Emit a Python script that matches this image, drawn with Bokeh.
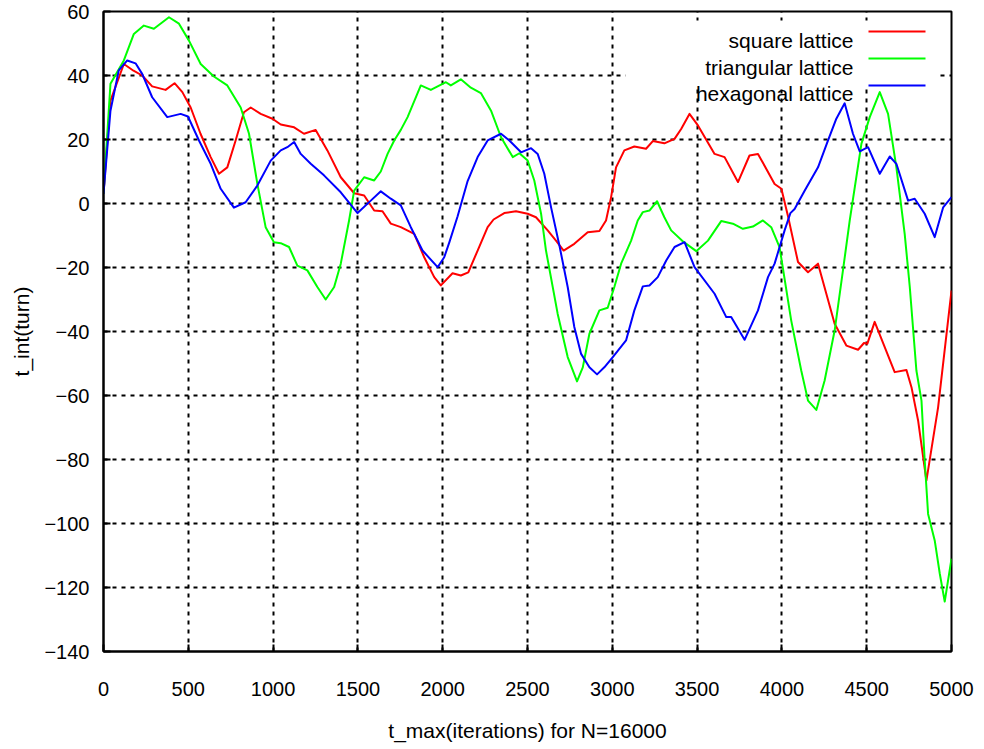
from bokeh.plotting import figure
from bokeh.models import (Range1d, FixedTicker, Label, BoxAnnotation, ColumnDataSource)
from bokeh.embed import file_html
from bokeh.resources import INLINE

# ---------------- data ----------------
square_x = [0, 40, 120, 177, 228, 287, 366, 419, 465, 514, 572, 632, 681, 730, 779, 828, 868, 927,
            996, 1045, 1124, 1182, 1251, 1320, 1399, 1478, 1537, 1596, 1645, 1694, 1753, 1832, 1891,
            1950, 1989, 2058, 2107, 2151, 2206, 2265, 2300, 2363, 2432, 2501, 2550, 2619, 2668, 2713,
            2776, 2855, 2924, 2963, 2993, 3022, 3071, 3130, 3199, 3239, 3307, 3367, 3406, 3455, 3505,
            3603, 3662, 3741, 3809, 3859, 3957, 3997, 4036, 4095, 4154, 4213, 4311, 4380, 4449, 4484,
            4504, 4547, 4665, 4734, 4764, 4803, 4852, 4921, 5000]
square_y = [3, 32, 43.6, 41.5, 40, 36.6, 35.5, 37.6, 34.8, 30, 21.8, 14.5, 9.3, 11.3, 19.7, 28.5, 30, 28,
            26.5, 24.7, 23.8, 21.8, 23, 16.6, 8.2, 3.2, 2.5, -2.2, -2.4, -6.3, -7.4, -9.5, -16.8,
            -23, -25.6, -21.8, -22.5, -21.5, -14.7, -7.4, -5.0, -3, -2.4, -3.2, -4.3, -8.4, -11.6, -14.7,
            -12.6, -9, -8.6, -5.3, 2, 11.3, 16.6, 17.8, 17.1, 19.5, 18.8, 20.2, 23.3, 28, 24.4,
            15.5, 14.5, 6.7, 15, 15.5, 6.1, 4.6, -4, -18.3, -21.5, -18.8, -37.6, -44.4, -45.7, -43.6,
            -43.8, -37, -52.7, -52, -57.4, -67.8, -86.6, -63.7, -27.2]

triangular_x = [0, 41, 120, 179, 238, 297, 386, 445, 504, 573, 651, 730, 809, 858, 907, 956, 1005, 1045,
                1094, 1143, 1202, 1261, 1310, 1360, 1399, 1448, 1478, 1537, 1596, 1635, 1675, 1714, 1753,
                1793, 1871, 1930, 2019, 2048, 2107, 2166, 2225, 2285, 2344, 2413, 2452, 2501, 2540, 2580,
                2609, 2678, 2737, 2792, 2826, 2865, 2924, 2973, 3012, 3052, 3111, 3150, 3180, 3219, 3264,
                3307, 3347, 3420, 3495, 3564, 3642, 3711, 3770, 3829, 3888, 3937, 3986, 4055, 4114, 4154,
                4203, 4252, 4311, 4360, 4400, 4469, 4518, 4577, 4626, 4675, 4724, 4754, 4793, 4823, 4842,
                4862, 4901, 4931, 4960, 5000]
triangular_y = [3, 37.4, 44.7, 53, 55.6, 54.6, 58.2, 56.2, 50.9, 43.6, 39.7, 36.9, 30, 21.8, 6.2, -7.4, -12.1, -12.4,
                -13.6, -19.4, -20.9, -26.1, -30, -26.1, -18.8, -5.3, 4, 8.2, 7.2, 10, 15.5, 19.7, 23,
                27, 36.9, 35.5, 37.9, 36.9, 38.8, 36.2, 34.5, 29, 20.7, 14.5, 15.7, 13.4, 7.2, -3.2,
                -14.7, -34.5, -48, -55.6, -51.2, -40.7, -33.4, -32.6, -26.1, -18.8, -11.6, -5.3, -2.7, -2.2, 0.7,
                -4.3, -8.4, -12, -14.9, -11.6, -5.5, -6.3, -7.9, -7.2, -5.3, -7.4, -13.6, -36.6, -52.2, -61.6,
                -64.5, -55.3, -39.7, -20.9, -5.3, 18.7, 27, 34.8, 28, 11.3, -9.5, -26.1, -52.2, -61.6, -80.3,
                -97, -105.3, -115.7, -124.4, -111]

hexagonal_x = [0, 41, 90, 140, 189, 228, 287, 376, 455, 498, 563, 632, 691, 769, 838, 907, 986, 1045,
               1084, 1124, 1163, 1222, 1300, 1399, 1498, 1576, 1635, 1694, 1753, 1812, 1881, 1970, 2009,
               2040, 2088, 2147, 2206, 2265, 2344, 2393, 2462, 2521, 2560, 2599, 2639, 2690, 2737, 2776,
               2816, 2865, 2910, 2953, 3003, 3081, 3130, 3180, 3219, 3268, 3318, 3367, 3426, 3485, 3603,
               3672, 3701, 3780, 3859, 3918, 3957, 4016, 4050, 4075, 4134, 4213, 4272, 4321, 4370, 4419,
               4459, 4508, 4577, 4636, 4675, 4744, 4783, 4842, 4901, 4951, 5000]
hexagonal_y = [3, 29, 41.6, 44.7, 43.8, 40.5, 33.2, 27, 28, 27.2, 19.7, 12.4, 4.6, -1.3, 0.4, 5.6, 13.4, 16.6,
               17.6, 19.2, 15.5, 12.4, 8.8, 3.5, -3, 0.9, 3.8, 1.5, -0.6, -7.4, -14.7, -19.9, -16.8,
               -12, -4, 7, 14.5, 19.7, 21.8, 19.7, 16, 17.3, 15.5, 9.3, -1.2, -13.6, -26.1, -38.6,
               -47, -51.2, -53.4, -51.2, -48, -42.8, -33.4, -25.9, -25.6, -23, -17.8, -13.6, -12.1, -19.9, -28.2,
               -35.5, -35.5, -42.6, -33.4, -23, -18.8, -8.4, -3, -1.7, 4, 11.3, 19.7, 26.5, 31.3, 21.8,
               16.3, 17.6, 9.3, 14.7, 12.4, 0.9, 1.5, -3.2, -10.5, -1.2, 2]

series_names = ["square lattice", "triangular lattice", "hexagonal lattice"]
series_colors = ["#ff0000", "#00ff00", "#0000ff"]

x_ticks = [0, 500, 1000, 1500, 2000, 2500, 3000, 3500, 4000, 4500, 5000]
y_ticks = [-140, -120, -100, -80, -60, -40, -20, 0, 20, 40, 60]

x_label = "t_max(iterations) for N=16000"
y_label = "t_int(turn)"

# ---------------- figure ----------------
FONT = "Liberation Sans"

p = figure(width=984, height=749, output_backend="svg", toolbar_location=None,
           x_range=Range1d(0, 5000), y_range=Range1d(-140, 60),
           min_border_left=103, min_border_right=33, min_border_top=11, min_border_bottom=98)

p.background_fill_color = "white"
p.border_fill_color = "white"
p.outline_line_color = "black"
p.outline_line_width = 2

xt = FixedTicker(ticks=x_ticks)
yt = FixedTicker(ticks=y_ticks)
p.xaxis.ticker = xt
p.yaxis.ticker = yt

for ax in (p.xaxis[0], p.yaxis[0]):
    ax.major_tick_in = 7
    ax.major_tick_out = 0
    ax.major_tick_line_width = 2
    ax.major_tick_line_color = "black"
    ax.minor_tick_line_color = None
    ax.axis_line_color = "black"
    ax.axis_line_width = 2
    ax.major_label_text_font = FONT
    ax.major_label_text_font_size = "20px"
    ax.major_label_text_color = "black"
    ax.axis_label_text_font = FONT
    ax.axis_label_text_font_size = "21px"
    ax.axis_label_text_font_style = "normal"
    ax.axis_label_text_color = "black"

p.xaxis.axis_label = x_label
p.yaxis.axis_label = y_label
p.xaxis.major_label_standoff = 30
p.xaxis.axis_label_standoff = 20
p.yaxis.major_label_standoff = 14
p.yaxis.axis_label_standoff = 8

for g in (p.xgrid[0], p.ygrid[0]):
    g.grid_line_color = "black"
    g.grid_line_width = 2
    g.grid_line_dash = "4 5"
    g.grid_line_alpha = 1.0
p.xgrid.ticker = xt
p.ygrid.ticker = yt

# white key box hiding the grid (like gnuplot key)
p.add_layout(BoxAnnotation(left=522, right=835, top=631, bottom=563,
                           left_units="screen", right_units="screen",
                           top_units="screen", bottom_units="screen",
                           fill_color="white", fill_alpha=1.0, line_color=None,
                           level="underlay"))

for xs, ys, col in ((square_x, square_y, series_colors[0]),
                    (triangular_x, triangular_y, series_colors[1]),
                    (hexagonal_x, hexagonal_y, series_colors[2])):
    src = ColumnDataSource(dict(x=xs, y=ys))
    p.line("x", "y", source=src, line_color=col, line_width=2, line_join="round")

# key (text right-aligned, sample line to the right)
key_baselines = [611, 584.5, 558]
key_lines = [620, 593, 566]
for name, col, yb, yl in zip(series_names, series_colors, key_baselines, key_lines):
    p.add_layout(Label(x=750, y=yb, x_units="screen", y_units="screen", text=name,
                       text_align="right", text_baseline="alphabetic",
                       text_font=FONT, text_font_size="21px", text_color="black"))
    p.add_layout(BoxAnnotation(left=765, right=822, bottom=yl - 1, top=yl + 1,
                               left_units="screen", right_units="screen",
                               top_units="screen", bottom_units="screen",
                               fill_color=col, fill_alpha=1.0, line_color=None))

open("out.html", "w").write(file_html(p, INLINE))
